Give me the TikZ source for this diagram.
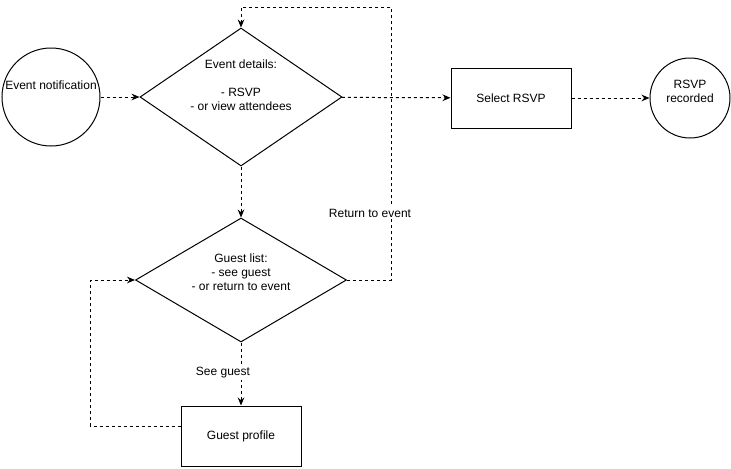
\documentclass[tikz,border=0pt]{standalone}
\usepackage{fontspec}
\setmainfont{Liberation Sans}
\usetikzlibrary{shapes.geometric,arrows.meta}

\tikzset{
flow/.style={draw, line width=0.75pt, dash pattern=on 2.25pt off 2.25pt,
  -{Stealth[length=6pt,width=5pt]}},
terminal/.style={circle, draw, line width=0.75pt, inner sep=0pt},
process/.style={rectangle, draw, line width=0.75pt, inner sep=0pt,
  minimum width=90pt, minimum height=45pt},
decision/.style={diamond, draw, line width=0.75pt, inner sep=0pt, aspect=1.5},
edgelabel/.style={fill=white, inner sep=1pt},
}

\begin{document}
\begin{tikzpicture}[x=0.75pt, y=-0.75pt, font=\fontsize{9pt}{10.5pt}\selectfont]
\useasboundingbox (0,0) rectangle (731,468);
\node[terminal, minimum size=73.5pt,
label={[yshift=9pt]center:Event notification}] (ev) at (51,97) {};
\node[decision, minimum width=151.5pt, minimum height=103.5pt,
label={[yshift=8.6pt, align=center]center:Event details:\\[10.5pt]- RSVP\\- or view attendees}]
(ed) at (241,97) {};
\node[process] (sel) at (511,98) {Select RSVP};
\node[terminal, minimum size=60pt,
label={[yshift=5.25pt, align=center]center:RSVP\\recorded}] (rec) at (690,98) {};
\node[decision, minimum width=158.25pt, minimum height=93pt,
label={[yshift=5.6pt, align=center]center:Guest list:\\- see guest\\- or return to event}]
(gl) at (241,280) {};
\node[process] (gp) at (241,436) {Guest profile};

\draw[flow] (ev) -- (ed);
\draw[flow] (ed) -- (sel);
\draw[flow] (sel) -- (rec);
\draw[flow] (ed) -- (gl);
\draw[flow] (gl) -- (gp);
\node[edgelabel] (see) at (223,373) {See guest};
\draw[flow] (gl.east) -- ++(44,0) -- ++(0,-273) -| (ed.north);
\node[edgelabel] (ret) at (370,213) {Return to event};
\draw[flow] ([yshift=7.5pt]gp.west) -- ++(-90,0) |- (gl.west);
\end{tikzpicture}
\end{document}
